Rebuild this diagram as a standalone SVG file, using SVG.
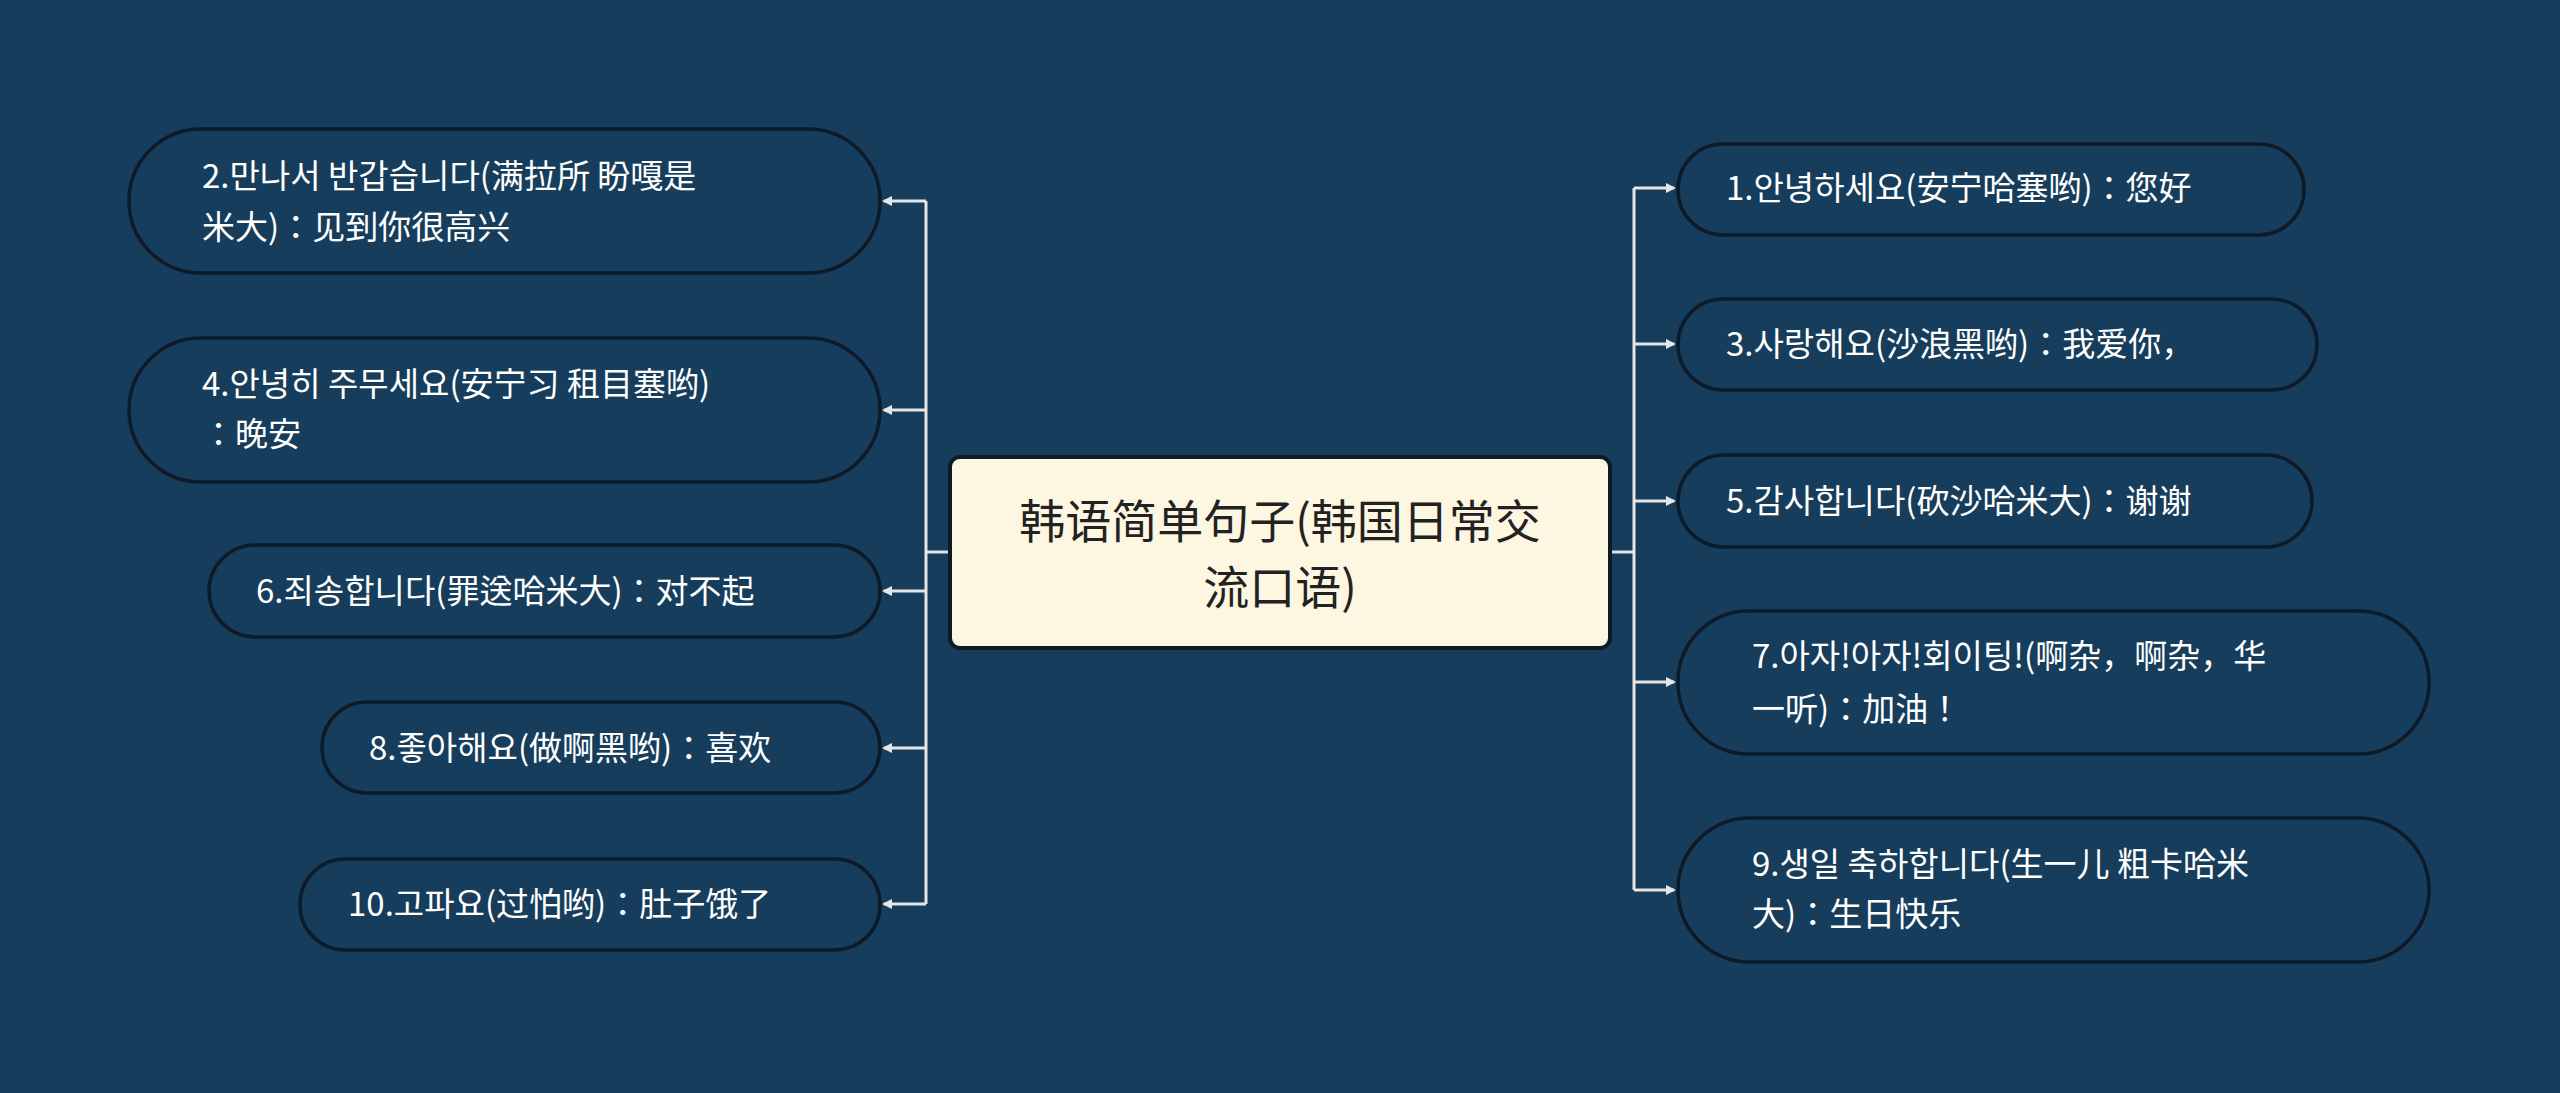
<svg xmlns="http://www.w3.org/2000/svg" width="2560" height="1093" viewBox="0 0 2560 1093">
<style>
.n{fill:#173d5c;stroke:#0d1b28;stroke-width:3.5}
.t{font-family:"Noto Sans CJK KR","Noto Sans CJK SC",sans-serif;font-size:33px;fill:#ffffff}
.c{stroke:#e6e6e6;stroke-width:3;fill:none}
</style>
<defs><marker id="a" markerWidth="10" markerHeight="10" refX="8" refY="5" orient="auto" markerUnits="userSpaceOnUse"><path d="M0,0 L10,5 L0,10 Z" fill="#e6e6e6"/></marker></defs>
<rect width="2560" height="1093" fill="#173d5c"/>
<g id="connectors">
<path class="c" d="M1610,552 H1634 M1634,188 V890"/>
<path class="c" marker-end="url(#a)" d="M1634,188 H1674"/>
<path class="c" marker-end="url(#a)" d="M1634,344 H1674"/>
<path class="c" marker-end="url(#a)" d="M1634,501 H1674"/>
<path class="c" marker-end="url(#a)" d="M1634,682 H1674"/>
<path class="c" marker-end="url(#a)" d="M1634,890 H1674"/>
<path class="c" d="M950,552 H926 M926,201 V904"/>
<path class="c" marker-end="url(#a)" d="M926,201 H884"/>
<path class="c" marker-end="url(#a)" d="M926,410 H884"/>
<path class="c" marker-end="url(#a)" d="M926,591 H884"/>
<path class="c" marker-end="url(#a)" d="M926,748 H884"/>
<path class="c" marker-end="url(#a)" d="M926,904 H884"/>
</g>
<g id="center"><rect x="950" y="457" width="660" height="191" rx="10" fill="#fdf6e0" stroke="#0d1b28" stroke-width="4"/>
<text x="1280" y="538" text-anchor="middle" style="font-family:'Noto Sans CJK SC',sans-serif;font-size:46px;fill:#222">韩语简单句子(韩国日常交</text>
<text x="1280" y="604" text-anchor="middle" style="font-family:'Noto Sans CJK SC',sans-serif;font-size:46px;fill:#222">流口语)</text></g>
<g id="n1"><rect class="n" x="1678" y="144" width="626" height="91" rx="45"/><text class="t" x="1726" y="200">1.안녕하세요(安宁哈塞哟)：您好</text></g>
<g id="n3"><rect class="n" x="1678" y="299" width="639" height="91" rx="45"/><text class="t" x="1726" y="356">3.사랑해요(沙浪黑哟)：我爱你，</text></g>
<g id="n5"><rect class="n" x="1678" y="455" width="634" height="92" rx="46"/><text class="t" x="1726" y="513">5.감사합니다(砍沙哈米大)：谢谢</text></g>
<g id="n7"><rect class="n" x="1678" y="611" width="751" height="143" rx="71"/><text class="t" x="1752" y="668">7.아자!아자!회이팅!(啊杂，啊杂，华</text><text class="t" x="1752" y="721">一听)：加油！</text></g>
<g id="n9"><rect class="n" x="1678" y="818" width="751" height="144" rx="72"/><text class="t" x="1752" y="876">9.생일 축하합니다(生一儿 粗卡哈米</text><text class="t" x="1752" y="926">大)：生日快乐</text></g>
<g id="n2"><rect class="n" x="129" y="129" width="751" height="144" rx="72"/><text class="t" x="202" y="188">2.만나서 반갑습니다(满拉所 盼嘎是</text><text class="t" x="202" y="239">米大)：见到你很高兴</text></g>
<g id="n4"><rect class="n" x="129" y="338" width="751" height="144" rx="72"/><text class="t" x="202" y="396">4.안녕히 주무세요(安宁习 租目塞哟)</text><text class="t" x="202" y="446">：晚安</text></g>
<g id="n6"><rect class="n" x="209" y="545" width="671" height="92" rx="46"/><text class="t" x="256" y="603">6.죄송합니다(罪送哈米大)：对不起</text></g>
<g id="n8"><rect class="n" x="322" y="702" width="558" height="91" rx="45"/><text class="t" x="369" y="760">8.좋아해요(做啊黑哟)：喜欢</text></g>
<g id="n10"><rect class="n" x="300" y="859" width="580" height="91" rx="45"/><text class="t" x="348" y="916">10.고파요(过怕哟)：肚子饿了</text></g>
</svg>
